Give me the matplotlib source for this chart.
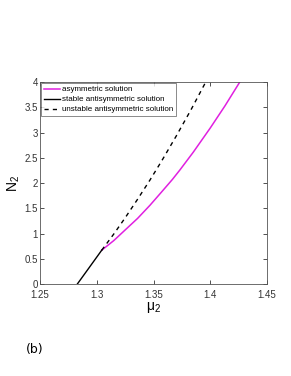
import matplotlib.pyplot as plt

# curve data
mu_asym = [1.3044, 1.315, 1.325, 1.336, 1.3469, 1.357, 1.3666, 1.3733,
           1.385, 1.40, 1.413, 1.426]
N_asym = [0.67, 0.86, 1.07, 1.30, 1.56, 1.82, 2.07, 2.26, 2.61, 3.09, 3.53, 4.0]

mu_stable = [1.2829, 1.2935, 1.3044]
N_stable = [0.0, 0.33, 0.67]

mu_unstable = [1.3044, 1.315, 1.325, 1.336, 1.3469, 1.357, 1.37, 1.383, 1.396]
N_unstable = [0.67, 0.99, 1.31, 1.68, 2.06, 2.43, 2.93, 3.45, 4.0]

xticks = [1.25, 1.3, 1.35, 1.4, 1.45]
yticks = [0, 0.5, 1, 1.5, 2, 2.5, 3, 3.5, 4]

plt.rcParams['font.family'] = ['Liberation Sans', 'DejaVu Sans']

fig = plt.figure(figsize=(2.91, 3.76), dpi=100)
ax = fig.add_axes([0.1375, 0.2447, 0.78, 0.537])

ax.plot(mu_asym, N_asym, color='#e020e0', lw=1.1, label='asymmetric solution')
ax.plot(mu_stable, N_stable, color='black', lw=1.0, label='stable antisymmetric solution')
ax.plot(mu_unstable, N_unstable, color='black', lw=1.0, ls=(0, (3, 3)),
        label='unstable antisymmetric solution')

ax.set_xlim(1.25, 1.45)
ax.set_ylim(0, 4)
ax.set_xticks(xticks)
ax.set_xticklabels(['1.25', '1.3', '1.35', '1.4', '1.45'])
ax.set_yticks(yticks)
ax.set_yticklabels(['0', '0.5', '1', '1.5', '2', '2.5', '3', '3.5', '4'])
ax.tick_params(direction='in', length=3, width=0.6, labelsize=7,
               top=True, right=True, colors='#333333')
ax.tick_params(axis='x', pad=4)
ax.tick_params(axis='y', pad=1.5)
for s in ax.spines.values():
    s.set_linewidth(0.6)
    s.set_color('#555555')

ax.set_xlabel(r'$\mathregular{\mu_2}$', fontsize=10, labelpad=0)
ax.set_ylabel(r'$\mathregular{N_2}$', fontsize=10, labelpad=2)

leg = ax.legend(loc='upper left', fontsize=5.8, frameon=True, fancybox=False,
                handlelength=2.0, handletextpad=0.3, borderpad=0.3,
                labelspacing=0.3, borderaxespad=0.15)
leg.get_frame().set_edgecolor('#555555')
leg.get_frame().set_linewidth(0.6)

fig.text(0.09, 0.06, '(b)', fontsize=9, family='DejaVu Sans')

fig.savefig('out.png', dpi=100)
